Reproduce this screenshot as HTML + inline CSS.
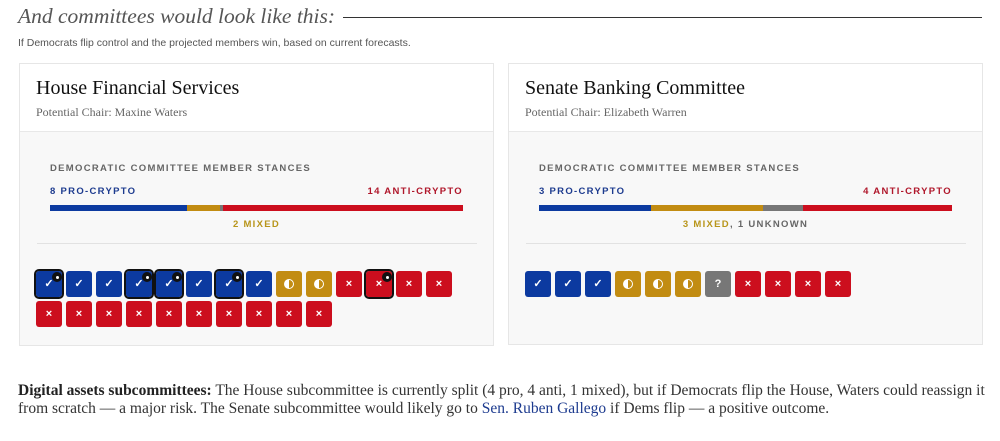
<!DOCTYPE html>
<html><head><meta charset="utf-8"><style>
*{box-sizing:border-box;margin:0;padding:0}
body{width:1000px;height:441px;background:#fff;position:relative;overflow:hidden;font-family:"Liberation Sans",sans-serif}
.a{position:absolute}
.serif{font-family:"Liberation Serif","DejaVu Serif",serif}
.card{position:absolute;top:63px;width:475px;height:283px;border:1px solid #e6e6e6;background:#f8f8f8}
.hd{position:absolute;left:0;top:0;right:0;height:68px;background:#fff;border-bottom:1px solid #e8e8e8}
.t{position:absolute;left:16px;top:13px;font-size:20px;color:#111}
.s{position:absolute;left:16px;top:41px;font-size:12px;color:#666}
.lab{position:absolute;font-size:9.5px;font-weight:bold;letter-spacing:1.3px;color:#666}
.bar{position:absolute;height:6px}
.tile{position:absolute;width:26px;height:26px;border-radius:3px;color:#fff;font-size:11px;text-align:center;line-height:26px;font-weight:bold}
.b{background:#0c3aa0}.g{background:#c28c12}.r{background:#cc0e1e}.u{background:#777}
.o{outline:2px solid #111;outline-offset:0px}
.dot{position:absolute;right:0px;top:1px;width:10px;height:10px;border-radius:50%;background:#111}
.dot:after{content:"";position:absolute;left:3.5px;top:3.5px;width:3px;height:3px;border-radius:50%;background:#fff}
.half{position:absolute;left:8px;top:8px;width:10px;height:10px;border-radius:50%;border:1.5px solid #fff;background:linear-gradient(90deg,#fff 50%,transparent 50%)}
</style></head><body>
<div class="a serif" style="left:18px;top:4px;font-size:21.5px;font-style:italic;color:#555">And committees would look like this:</div>
<div class="a" style="left:343px;top:17px;width:639px;height:1px;background:#333"></div>
<div class="a" style="left:18px;top:37px;font-size:10.5px;color:#555">If Democrats flip control and the projected members win, based on current forecasts.</div>

<div class="card" style="left:19px">
 <div class="hd"><div class="t serif">House Financial Services</div><div class="s serif">Potential Chair: Maxine Waters</div></div>
 <div class="lab" style="left:30px;top:99px">DEMOCRATIC COMMITTEE MEMBER STANCES</div>
 <div class="lab" style="left:30px;top:122px;color:#1d3b8f">8 PRO-CRYPTO</div>
 <div class="lab" style="right:30px;top:122px;color:#b0172b">14 ANTI-CRYPTO</div>
 <div class="bar b" style="left:30px;top:141px;width:137px"></div>
 <div class="bar g" style="left:167px;top:141px;width:33px"></div>
 <div class="bar u" style="left:200px;top:141px;width:3px"></div>
 <div class="bar r" style="left:203px;top:141px;width:240px"></div>
 <div class="lab" style="left:0;right:0;text-align:center;top:155px;color:#b8951a">2 MIXED</div>
 <div class="a" style="left:17px;top:179px;width:440px;height:1px;background:#e2e2e2"></div>
</div>

<div class="card" style="left:508px;height:282px">
 <div class="hd"><div class="t serif">Senate Banking Committee</div><div class="s serif">Potential Chair: Elizabeth Warren</div></div>
 <div class="lab" style="left:30px;top:99px">DEMOCRATIC COMMITTEE MEMBER STANCES</div>
 <div class="lab" style="left:30px;top:122px;color:#1d3b8f">3 PRO-CRYPTO</div>
 <div class="lab" style="right:30px;top:122px;color:#b0172b">4 ANTI-CRYPTO</div>
 <div class="bar b" style="left:30px;top:141px;width:112px"></div>
 <div class="bar g" style="left:142px;top:141px;width:112px"></div>
 <div class="bar u" style="left:254px;top:141px;width:40px"></div>
 <div class="bar r" style="left:294px;top:141px;width:149px"></div>
 <div class="lab" style="left:0;right:0;text-align:center;top:155px"><span style="color:#b8951a">3 MIXED</span>, 1 UNKNOWN</div>
 <div class="a" style="left:17px;top:179px;width:440px;height:1px;background:#e2e2e2"></div>
</div>

<div id="tiles"></div>

<div class="a serif" style="left:18px;top:382px;width:970px;font-size:15.5px;line-height:18px;color:#333"><b style="color:#222">Digital assets subcommittees:</b> The House subcommittee is currently split (4 pro, 4 anti, 1 mixed), but if Democrats flip the House, Waters could reassign it<br>from scratch — a major risk. The Senate subcommittee would likely go to <span style="color:#1d3b8f">Sen. Ruben Gallego</span> if Dems flip — a positive outcome.</div>

<script>
var h='';
function tile(x,y,c,o){var sym=c=='b'?'✓':c=='g'?'<div class="half"></div>':c=='u'?'?':'×';
h+='<div class="tile '+c+(o?' o':'')+'" style="left:'+x+'px;top:'+y+'px">'+sym+(o?'<div class="dot"></div>':'')+'</div>';}
var r1='bbbbbbbbggrrrr',out=[0,3,4,6,11];
for(var i=0;i<14;i++)tile(36+i*30,271,r1[i],out.indexOf(i)>=0);
for(var i=0;i<10;i++)tile(36+i*30,301,'r',false);
var r2='bbbgggurrrr';
for(var i=0;i<11;i++)tile(525+i*30,271,r2[i],false);
document.getElementById('tiles').innerHTML=h;
</script>
</body></html>
